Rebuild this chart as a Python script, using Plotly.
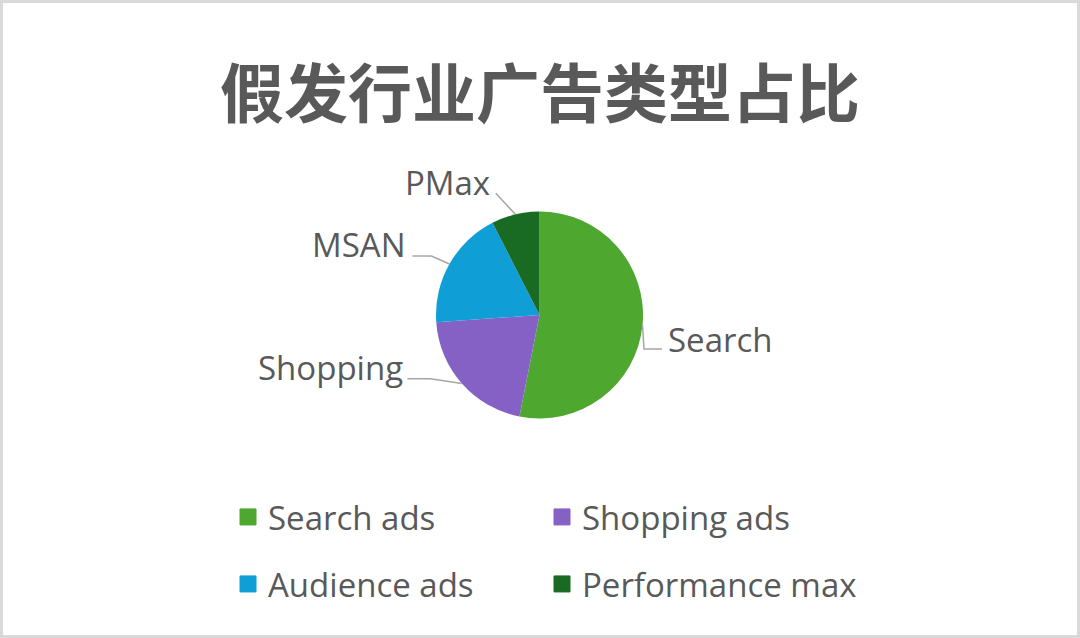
import math
import plotly.graph_objects as go

# ---- data ----
categories = ["Search ads", "Shopping ads", "Audience ads", "Performance max"]
slice_labels = ["Search", "Shopping", "MSAN", "PMax"]
shares = [53.1, 20.8, 18.6, 7.5]
colors = ["#4EA72E", "#8661C5", "#0F9ED5", "#196B24"]
title_text = "假发行业广告类型占比"

# ---- layout constants (pixels) ----
W, H = 1080, 638
CX, CY, R = 539.5, 315.0, 103.5
TXT = "#595959"
LINE = "#a6a6a6"
FONT = "Open Sans"
FS = 33

# label placement: elbow offset, end offset, text offset (relative to slice-edge anchor)
label_place = {
    "Search":   dict(elbow=(1.5, 24), end=(19.5, 24), text=(23, 14), xanchor="left"),
    "Shopping": dict(elbow=(-31.5, -4.6), end=(-54.5, -4.6), text=(-57, -15.6), xanchor="right"),
    "MSAN":     dict(elbow=(-18, -8), end=(-37, -8), text=(-41, -19.5), xanchor="right"),
    "PMax":     dict(elbow=None, end=(-19.5, -21), text=(-23, -31.4), xanchor="right"),
}


def px(x):
    return x / W


def py(y):
    return 1 - y / H


fig = go.Figure()
fig.add_trace(go.Pie(
    labels=categories, values=shares, sort=False, direction="clockwise", rotation=0,
    marker=dict(colors=colors, line=dict(width=0)),
    textinfo="none", hoverinfo="label+percent", showlegend=False,
    domain=dict(x=[px(CX - R), px(CX + R)], y=[py(CY + R), py(CY - R)]),
))

# legend entries (two rows, two legends)
for i, (cat, col) in enumerate(zip(categories, colors)):
    fig.add_trace(go.Scatter(
        x=[None], y=[None], mode="markers", name=cat,
        marker=dict(symbol="square", size=16, color=col, line=dict(color=col, width=1)),
        legend="legend" if i < 2 else "legend2", hoverinfo="skip",
    ))

# slice labels with leader lines
total = sum(shares)
cum = 0.0
shapes = []
annotations = []
for lab, v in zip(slice_labels, shares):
    mid = (cum + v / 2) / total * 2 * math.pi
    cum += v
    ax = CX + R * math.sin(mid)
    ay = CY - R * math.cos(mid)
    p = label_place[lab]
    pts = [(ax, ay)]
    if p["elbow"]:
        pts.append((ax + p["elbow"][0], ay + p["elbow"][1]))
    pts.append((ax + p["end"][0], ay + p["end"][1]))
    path = "M " + " L ".join(f"{px(x):.5f},{py(y):.5f}" for x, y in pts)
    shapes.append(dict(type="path", xref="paper", yref="paper", path=path,
                       line=dict(color=LINE, width=1.5)))
    annotations.append(dict(
        x=px(ax + p["text"][0]), y=py(ay + p["text"][1]), xref="paper", yref="paper",
        text=lab, showarrow=False, xanchor=p["xanchor"], yanchor="middle",
        font=dict(family=FONT, size=FS, color=TXT),
    ))

# title
annotations.append(dict(
    x=0.5, y=py(89), xref="paper", yref="paper", text=f"<b>{title_text}</b>",
    showarrow=False, xanchor="center", yanchor="middle",
    font=dict(family="Noto Sans CJK SC", size=64, color=TXT),
))

# outer border
shapes.append(dict(type="rect", xref="paper", yref="paper",
                   x0=px(1.5), x1=px(W - 1.5), y0=py(H - 1.5), y1=py(1.5),
                   line=dict(color="#d9d9d9", width=3)))

legend_common = dict(orientation="h", xanchor="left", yanchor="middle",
                     entrywidth=269, entrywidthmode="pixels",
                     font=dict(family=FONT, size=FS, color=TXT),
                     bgcolor="rgba(0,0,0,0)", itemclick=False, itemdoubleclick=False)

fig.update_layout(
    width=W, height=H,
    margin=dict(l=0, r=0, t=0, b=0),
    paper_bgcolor="white", plot_bgcolor="white",
    xaxis=dict(visible=False), yaxis=dict(visible=False),
    legend=dict(x=px(228), y=py(517), **legend_common),
    legend2=dict(x=px(228), y=py(584), **legend_common),
    shapes=shapes, annotations=annotations,
    hovermode="closest",
)

fig.write_html("out.html", config={"displayModeBar": False},
               post_script="document.body.style.margin='0';document.body.style.overflow='hidden';")
